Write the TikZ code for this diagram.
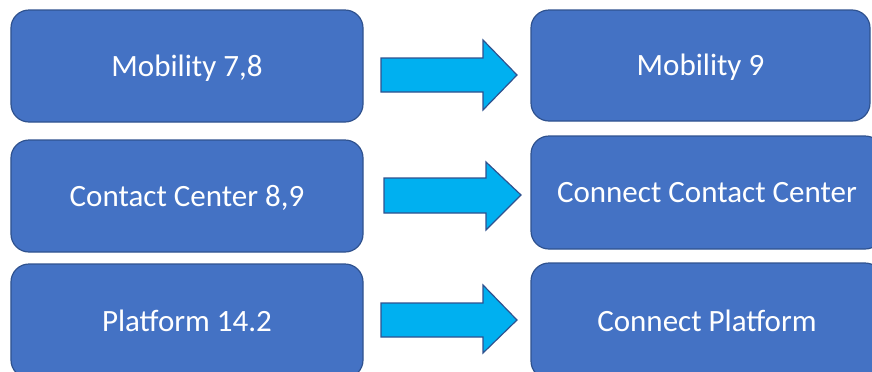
\documentclass[tikz,border=0pt]{standalone}
\usepackage{fontspec}
\setmainfont{Carlito}
\definecolor{boxblue}{HTML}{4472C4}
\definecolor{edgeblue}{HTML}{2F528F}
\definecolor{arrowcyan}{HTML}{00B0F0}
\begin{document}
\begin{tikzpicture}[x=1bp,y=-1bp,
  bluebox/.style={draw=edgeblue,fill=boxblue,line width=1.2bp,rounded corners=18bp,
    text=white,font=\fontsize{31bp}{36bp}\selectfont,text height=20bp,text depth=0pt,
    inner sep=0pt},
  blockarrow/.style={draw=edgeblue,fill=arrowcyan,line width=1.2bp,line join=miter}]
\useasboundingbox (0,0) rectangle (872,371);
\begin{scope}
\clip (0,0) rectangle (872,371);
\node[bluebox,minimum width=352bp,minimum height=112bp] (m78) at (187,66) {Mobility 7,8};
\node[bluebox,minimum width=339bp,minimum height=111bp] (m9) at (700.5,65.5) {Mobility 9};
\node[bluebox,minimum width=352bp,minimum height=112bp] (cc89) at (187,196) {Contact Center 8,9};
\node[bluebox,minimum width=352bp,minimum height=113bp] (ccc) at (707,192.5) {Connect Contact Center};
\node[bluebox,minimum width=352bp,minimum height=114bp] (p142) at (187,321) {Platform 14.2};
\node[bluebox,minimum width=352bp,minimum height=116bp] (cp) at (707,321) {Connect Platform};
\draw[blockarrow] (381,58) -- (483,58) -- (483,40) -- (517,75) -- (483,110) -- (483,92) -- (381,92) -- cycle;
\draw[blockarrow] (384,178) -- (486,178) -- (486,162) -- (521,195) -- (486,230) -- (486,213) -- (384,213) -- cycle;
\draw[blockarrow] (381,303) -- (483,303) -- (483,285) -- (517,320) -- (483,353) -- (483,337) -- (381,337) -- cycle;
\end{scope}
\end{tikzpicture}
\end{document}
